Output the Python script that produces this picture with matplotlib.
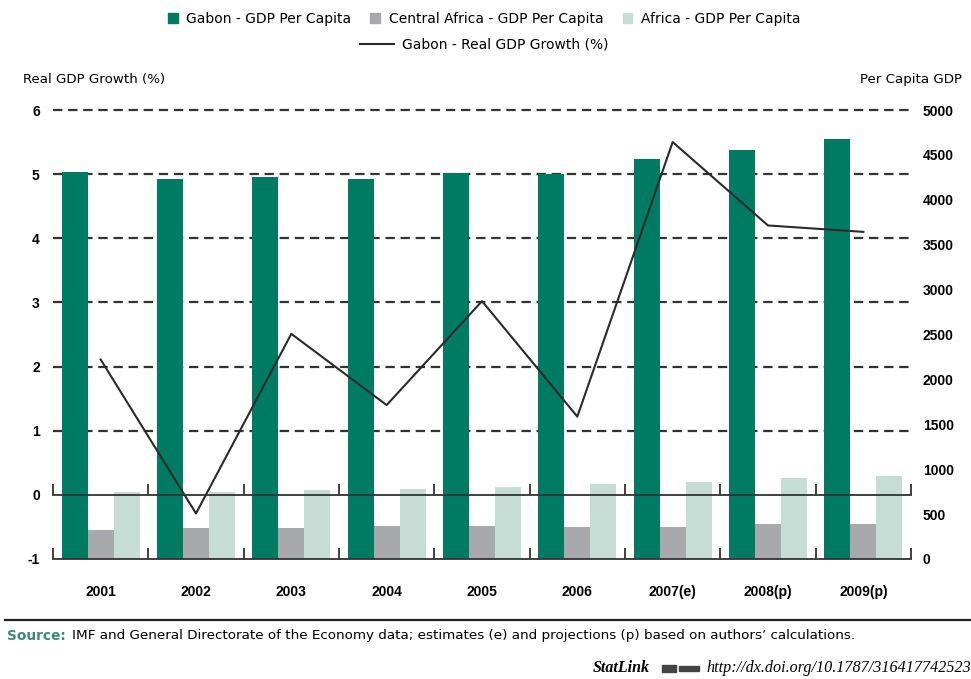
import matplotlib
matplotlib.use("Agg")
import matplotlib.pyplot as plt
from matplotlib.patches import Patch, Rectangle
from matplotlib.lines import Line2D

anos = ['2001', '2002', '2003', '2004', '2005', '2006', '2007(e)', '2008(p)', '2009(p)']

# Per capita GDP (right axis)
gabon_pc = [4310, 4230, 4250, 4230, 4295, 4285, 4450, 4560, 4675]
central_pc = [325, 350, 350, 365, 365, 360, 360, 385, 385]
africa_pc = [745, 745, 770, 785, 805, 830, 855, 900, 925]

# Real GDP growth, % (left axis)
crescimento = [2.11, -0.29, 2.51, 1.40, 3.02, 1.22, 5.50, 4.20, 4.10]

nomes = ['Gabon - GDP Per Capita', 'Central Africa - GDP Per Capita',
         'Africa - GDP Per Capita', 'Gabon - Real GDP Growth (%)']
cores = ['#007B63', '#A7A9AC', '#C6DDD5']
cor_linha = '#2B2B2B'

plt.rcParams['font.family'] = ['DejaVu Sans']
num_font = dict(family=['Liberation Sans', 'DejaVu Sans'], weight='bold', size=10)

Y_ESQ = (-1, 6)      # left scale
Y_DIR = (0, 5000)    # right scale, same pixels


def esq_para_dir(v):
    return Y_DIR[0] + (v - Y_ESQ[0]) * (Y_DIR[1] - Y_DIR[0]) / (Y_ESQ[1] - Y_ESQ[0])


def plotar_grafico():
    fig = plt.figure(figsize=(9.71, 6.79), dpi=100)
    rect = [53 / 971, 1 - 559 / 679, (911 - 53) / 971, (559 - 110) / 679]

    # bars axes (bottom, holds the gridlines too) and line + category axes on top
    ax2 = fig.add_axes(rect, zorder=1)
    ax = fig.add_axes(rect, zorder=2)
    ax.patch.set_visible(False)

    n = len(anos)
    centros = [i + 0.5 for i in range(n)]
    w = 0.273

    for a in (ax, ax2):
        a.set_xlim(0, n)
        for s in ['top', 'left', 'right', 'bottom']:
            a.spines[s].set_visible(False)

    # right axis, bars and dashed grid (grid at the left-scale values 1..6)
    ax2.set_ylim(*Y_DIR)
    ax2.yaxis.tick_right()
    ax2.set_yticks(range(0, 5001, 500))
    ax2.set_yticklabels([str(v) for v in range(0, 5001, 500)], fontdict=num_font)
    ax2.yaxis.remove_overlapping_locs = False
    ax2.set_yticks([esq_para_dir(v) for v in range(1, 7)], minor=True)
    ax2.tick_params(axis='y', which='both', length=0, pad=8.5)
    ax2.set_axisbelow(True)
    ax2.grid(axis='y', which='minor', linestyle=(0, (4.2, 2.6)), color='#333333', linewidth=1.6)
    for t in ax2.yaxis.get_minor_ticks():
        t.gridline.set_clip_on(False)
    ax2.xaxis.set_visible(False)
    series = [gabon_pc, central_pc, africa_pc]
    for k, vals in enumerate(series):
        ax2.bar([c + (k - 1) * w for c in centros], vals, width=w, color=cores[k],
                linewidth=0, label=nomes[k], zorder=2)

    # left axis, line and category axes
    ax.set_ylim(*Y_ESQ)
    ax.set_yticks(range(-1, 7))
    ax.set_yticklabels([str(v) for v in range(-1, 7)], fontdict=num_font)
    ax.tick_params(axis='y', length=0, pad=9.5)
    ax.plot(centros, crescimento, color=cor_linha, linewidth=1.5, label=nomes[3])

    ax.spines['bottom'].set_visible(True)
    ax.spines['bottom'].set_color('#333333')
    ax.spines['bottom'].set_linewidth(1.3)
    ax.set_xticks(range(0, n + 1))
    ax.set_xticklabels([])
    ax.set_xticks(centros, minor=True)
    ax.set_xticklabels(anos, minor=True, fontdict=num_font)
    ax.tick_params(axis='x', which='major', direction='in', length=8, width=1.3, color='#333333')
    ax.tick_params(axis='x', which='minor', length=0, pad=19)

    zero = ax.secondary_xaxis(1 / 7)
    zero.spines['bottom'].set_color('#333333')
    zero.spines['bottom'].set_linewidth(1.3)
    zero.set_xticks(range(0, n + 1))
    zero.set_xticklabels([])
    zero.tick_params(axis='x', direction='in', length=8, width=1.3, color='#333333')

    # axis titles
    fig.text(23 / 971, 1 - 80 / 679, 'Real GDP Growth (%)', ha='left', va='center', fontsize=9.6)
    fig.text(962 / 971, 1 - 80 / 679, 'Per Capita GDP', ha='right', va='center', fontsize=9.6)

    # legend
    handles = [Patch(color=c) for c in cores]
    fig.legend(handles, nomes[:3], loc='center', bbox_to_anchor=(484 / 971, 1 - 19 / 679),
               ncol=3, frameon=False, fontsize=10, handlelength=0.7, handleheight=0.7,
               handletextpad=0.6, columnspacing=1.4, borderpad=0, borderaxespad=0)
    fig.legend([Line2D([], [], color=cor_linha, linewidth=1.5)], nomes[3:], loc='center',
               bbox_to_anchor=(484 / 971, 1 - 45 / 679), frameon=False, fontsize=10,
               handlelength=2.45, handletextpad=0.6, borderpad=0, borderaxespad=0)

    # source block
    fig.add_artist(Line2D([5 / 971, 1], [1 - 620 / 679] * 2, transform=fig.transFigure,
                          color='#222222', linewidth=1.6))
    t = fig.text(7 / 971, 1 - 636 / 679, 'Source:', ha='left', va='center', fontsize=9.9,
                 color='#3D8B77', weight='bold')
    r = fig.canvas.get_renderer()
    bb = t.get_window_extent(r)
    fig.text((bb.x1 + 6) / 971, 1 - 636 / 679,
             'IMF and General Directorate of the Economy data; estimates (e) and projections (p) '
             'based on authors\u2019 calculations.', ha='left', va='center', fontsize=9.7)

    fig.text(650 / 971, 1 - 668 / 679, 'StatLink', ha='right', va='center', fontsize=11.5,
             family='Liberation Serif', style='italic', weight='bold')
    fig.add_artist(Rectangle((662 / 971, 1 - 672 / 679), 14 / 971, 7 / 679,
                             transform=fig.transFigure, color='#444444'))
    fig.add_artist(Rectangle((679 / 971, 1 - 671 / 679), 20 / 971, 5 / 679,
                             transform=fig.transFigure, color='#444444'))
    fig.text(706 / 971, 1 - 668 / 679, 'http://dx.doi.org/10.1787/316417742523', ha='left',
             va='center', fontsize=11.6, family='Liberation Serif', style='italic')

    fig.savefig('out.png', dpi=100)


if __name__ == "__main__":
    plotar_grafico()
